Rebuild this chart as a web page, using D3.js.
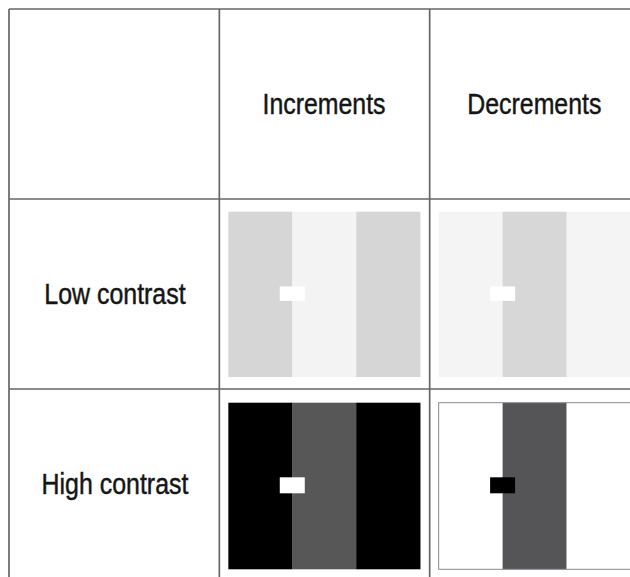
<!DOCTYPE html>
<html>
<head>
<meta charset="utf-8">
<script src="https://cdn.jsdelivr.net/npm/d3@7"></script>
<style>
  html, body { margin: 0; padding: 0; background: #fff; }
  svg { display: block; }
</style>
</head>
<body>
<svg id="chart" width="630" height="577"></svg>
<script>
// ---- data ----
const columns = ["Increments", "Decrements"];
const rows = ["Low contrast", "High contrast"];
// grey level of each of the three stripes, per row (first) and column (second)
const stripeGrey = {
  "Low contrast":  { "Increments": ["#d6d6d6", "#f3f3f3", "#d6d6d6"], "Decrements": ["#f4f4f4", "#d7d7d7", "#f4f4f4"] },
  "High contrast": { "Increments": ["#000000", "#575757", "#000000"], "Decrements": ["#ffffff", "#555558", "#ffffff"] }
};
const targetGrey = {
  "Low contrast":  { "Increments": "#ffffff", "Decrements": "#ffffff" },
  "High contrast": { "Increments": "#ffffff", "Decrements": "#000000" }
};
const stripeIds = [0, 1, 2];

// ---- layout ----
const svg = d3.select("#chart");
const x = d3.scaleBand().domain(["", ...columns]).range([9, 640]).padding(0);
const y = d3.scaleBand().domain(["", ...rows]).range([9, 579]).padding(0);
const lineColor = "#666666";

// stimuli
const cells = [];
rows.forEach(r => columns.forEach(c => cells.push({ r, c })));

const g = svg.append("g");
cells.forEach(d => {
  const cx0 = x(d.c), cy0 = y(d.r);
  const padL = 9, padR = 9.5, padT = d.r === "Low contrast" ? 12.7 : 13.7, padB = d.r === "Low contrast" ? 12 : 9.7;
  const xs = d3.scaleBand().domain(stripeIds).range([cx0 + padL, cx0 + x.bandwidth() - padR]);
  const top = cy0 + padT, bottom = cy0 + y.bandwidth() - padB;
  const cg = g.append("g");
  cg.selectAll("rect.stripe").data(stripeIds).join("rect")
    .attr("class", "stripe")
    .attr("x", i => xs(i))
    .attr("y", top)
    .attr("width", xs.bandwidth() + 0.3)
    .attr("height", bottom - top)
    .attr("fill", i => stripeGrey[d.r][d.c][i]);
  if (d.r === "High contrast" && d.c === "Decrements") {
    cg.append("rect")
      .attr("x", xs(0)).attr("y", top)
      .attr("width", xs.range()[1] - xs.range()[0]).attr("height", bottom - top)
      .attr("fill", "none").attr("stroke", "#8a8a8a").attr("stroke-width", 1);
  }
  const tw = 25, th = d.r === "Low contrast" ? 14.5 : 16;
  cg.append("rect")
    .attr("x", xs(1) - tw / 2)
    .attr("y", (top + bottom) / 2 - th / 2 - 0.7)
    .attr("width", tw).attr("height", th)
    .attr("fill", targetGrey[d.r][d.c]);
});

// grid lines
const grid = svg.append("g").attr("stroke", lineColor).attr("stroke-width", 1.7).attr("fill", "none");
const xEdges = [...x.domain().map(k => x(k)), x.range()[1]];
const yEdges = [...y.domain().map(k => y(k)), y.range()[1]];
grid.selectAll("line.v").data(xEdges).join("line")
  .attr("class", "v").attr("x1", d => d).attr("x2", d => d)
  .attr("y1", yEdges[0]).attr("y2", yEdges[yEdges.length - 1]);
grid.selectAll("line.h").data(yEdges).join("line")
  .attr("class", "h").attr("y1", d => d).attr("y2", d => d)
  .attr("x1", xEdges[0]).attr("x2", xEdges[xEdges.length - 1]);

// labels
const font = "'Liberation Sans', Arial, Helvetica, sans-serif";
svg.append("g").selectAll("text").data(columns).join("text")
  .attr("transform", d => `translate(${x(d) + x.bandwidth() / 2 - 0.5},${y("") + 105}) scale(0.83,1)`)
  .attr("text-anchor", "middle")
  .attr("font-family", font).attr("font-size", 30).attr("fill", "#151515")
  .attr("stroke", "#151515").attr("stroke-width", 0.45)
  .text(d => d);
svg.append("g").selectAll("text").data(rows).join("text")
  .attr("transform", d => `translate(${x("") + x.bandwidth() / 2 + 0.8},${y(d) + 104.5}) scale(0.86,1)`)
  .attr("text-anchor", "middle")
  .attr("font-family", font).attr("font-size", 29).attr("fill", "#151515")
  .attr("stroke", "#151515").attr("stroke-width", 0.45)
  .text(d => d);
</script>
</body>
</html>
